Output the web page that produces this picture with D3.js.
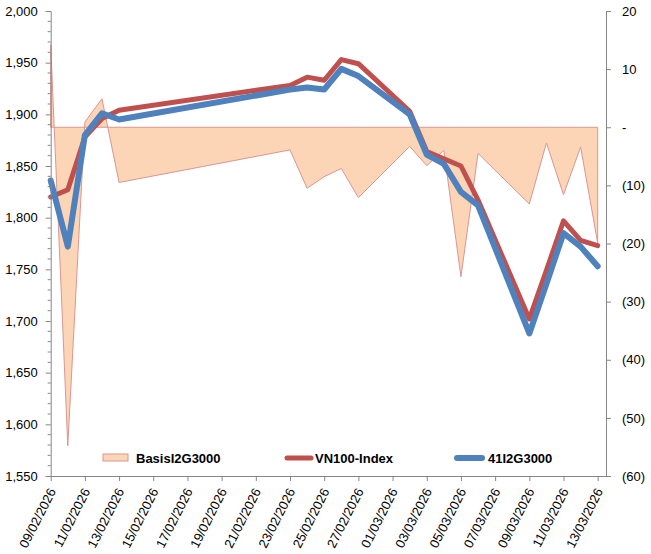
<!DOCTYPE html>
<html>
<head>
<meta charset="utf-8">
<script src="https://cdn.jsdelivr.net/npm/d3@7"></script>
<style>
  body { margin: 0; background: #fff; }
  text { font-family: Arial, "Liberation Sans", sans-serif; }
</style>
</head>
<body>
<script>
// trading days shown on the chart
const dates = ["2026-02-09", "2026-02-10", "2026-02-11", "2026-02-12", "2026-02-13",
  "2026-02-23", "2026-02-24", "2026-02-25", "2026-02-26", "2026-02-27",
  "2026-03-02", "2026-03-03", "2026-03-04", "2026-03-05", "2026-03-06",
  "2026-03-09", "2026-03-10", "2026-03-11", "2026-03-12", "2026-03-13"];

const vn100 = [1820, 1827, 1878, 1896, 1904, 1928, 1936, 1933, 1953, 1949,
  1903, 1864, 1857, 1850, 1817, 1702, 1749, 1797, 1778, 1773];

const fut41 = [1836, 1772, 1880, 1901, 1895, 1924, 1926, 1924, 1944, 1937,
  1900, 1861, 1852, 1825, 1812, 1688, 1736, 1785, 1772, 1753];

const basis = [14.2, -54.8, 0.9, 4.9, -9.5, -3.9, -10.5, -8.5, -7.1, -12.1,
  -3.3, -6.6, -4.0, -25.7, -4.5, -13.2, -2.7, -11.6, -3.4, -19.9];

const seriesNames = ["BasisI2G3000", "VN100-Index", "41I2G3000"];
const leftTicks = [1550, 1600, 1650, 1700, 1750, 1800, 1850, 1900, 1950, 2000];
const rightTicks = [-60, -50, -40, -30, -20, -10, 0, 10, 20];

const W = 651, H = 554;
const plotL = 50.7, plotR = 606, plotT = 11, plotB = 476;
const parse = d3.utcParse("%Y-%m-%d");
const days = dates.map(parse);

const svg = d3.select("body").append("svg")
  .attr("width", W).attr("height", H);

const x = d3.scaleUtc()
  .domain([days[0], days[days.length - 1]])
  .range([plotL, 597.7]);
const yL = d3.scaleLinear().domain([1550, 2000]).range([plotB, plotT]);
const yR = d3.scaleLinear().domain([-60, 20]).range([plotB, plotT]);

/* basis area, drawn first so the lines sit on top */
const area = d3.area()
  .x((d, i) => x(days[i]))
  .y0(yR(0))
  .y1(d => yR(d));
svg.append("path")
  .datum(basis)
  .attr("d", area)
  .attr("fill", "#fbd5b5")
  .attr("stroke", "#d99694")
  .attr("stroke-width", 1)
  .attr("stroke-linejoin", "miter");

const line = d3.line()
  .x((d, i) => x(days[i]))
  .y(d => yL(d));

svg.append("path")
  .datum(vn100)
  .attr("d", line)
  .attr("fill", "none")
  .attr("stroke", "#c0504d")
  .attr("stroke-width", 5)
  .attr("stroke-linejoin", "round")
  .attr("stroke-linecap", "round");

svg.append("path")
  .datum(fut41)
  .attr("d", line)
  .attr("fill", "none")
  .attr("stroke", "#4f81bd")
  .attr("stroke-width", 6)
  .attr("stroke-linejoin", "round")
  .attr("stroke-linecap", "round");

/* axes */
const axisColor = "#868686";

const gL = svg.append("g")
  .attr("transform", `translate(${plotL},0)`)
  .call(d3.axisLeft(yL).tickValues(leftTicks).tickFormat(d3.format(",")).tickSize(5).tickPadding(8));
// minor ticks every 10 points
svg.append("g").selectAll("line")
  .data(d3.range(1550, 2001, 10).filter(v => v % 50 !== 0))
  .enter().append("line")
  .attr("x1", plotL - 3).attr("x2", plotL)
  .attr("y1", d => yL(d)).attr("y2", d => yL(d))
  .attr("stroke", axisColor);

const fmtR = v => v === 0 ? "-" : v < 0 ? `(${-v})` : `${v}`;
const gR = svg.append("g")
  .attr("transform", `translate(${plotR},0)`)
  .call(d3.axisRight(yR).tickValues(rightTicks).tickFormat(fmtR).tickSize(5).tickPadding(11));

const xTicks = d3.utcDay.range(days[0], d3.utcDay.offset(days[days.length - 1], 1), 2);
const gX = svg.append("g")
  .attr("transform", `translate(0,${plotB})`)
  .call(d3.axisBottom(x).tickValues(xTicks).tickFormat(d3.utcFormat("%d/%m/%Y")).tickSize(5));
gX.select(".domain").attr("d", `M${plotL},0.5H${plotR}`);
gX.selectAll("text")
  .attr("y", 0).attr("dy", "0.35em")
  .attr("text-anchor", "end")
  .attr("transform", "translate(1,13) rotate(-63)");

[gL, gR, gX].forEach(g => {
  g.selectAll(".domain, line").attr("stroke", axisColor);
  g.selectAll("text").attr("font-size", 13).attr("fill", "#000");
});

/* legend */
const legend = svg.append("g").attr("font-size", 13).attr("font-weight", "bold");
legend.append("rect")
  .attr("x", 103).attr("y", 454).attr("width", 25).attr("height", 7)
  .attr("fill", "#fbd5b5").attr("stroke", "#d99694");
legend.append("line")
  .attr("x1", 287).attr("x2", 311).attr("y1", 458).attr("y2", 458)
  .attr("stroke", "#c0504d").attr("stroke-width", 5).attr("stroke-linecap", "round");
legend.append("line")
  .attr("x1", 457).attr("x2", 482).attr("y1", 458).attr("y2", 458)
  .attr("stroke", "#4f81bd").attr("stroke-width", 6).attr("stroke-linecap", "round");
legend.selectAll("text")
  .data([[136, seriesNames[0]], [315, seriesNames[1]], [488, seriesNames[2]]])
  .enter().append("text")
  .attr("x", d => d[0]).attr("y", 458).attr("dy", "0.36em")
  .text(d => d[1]);
</script>
</body>
</html>
